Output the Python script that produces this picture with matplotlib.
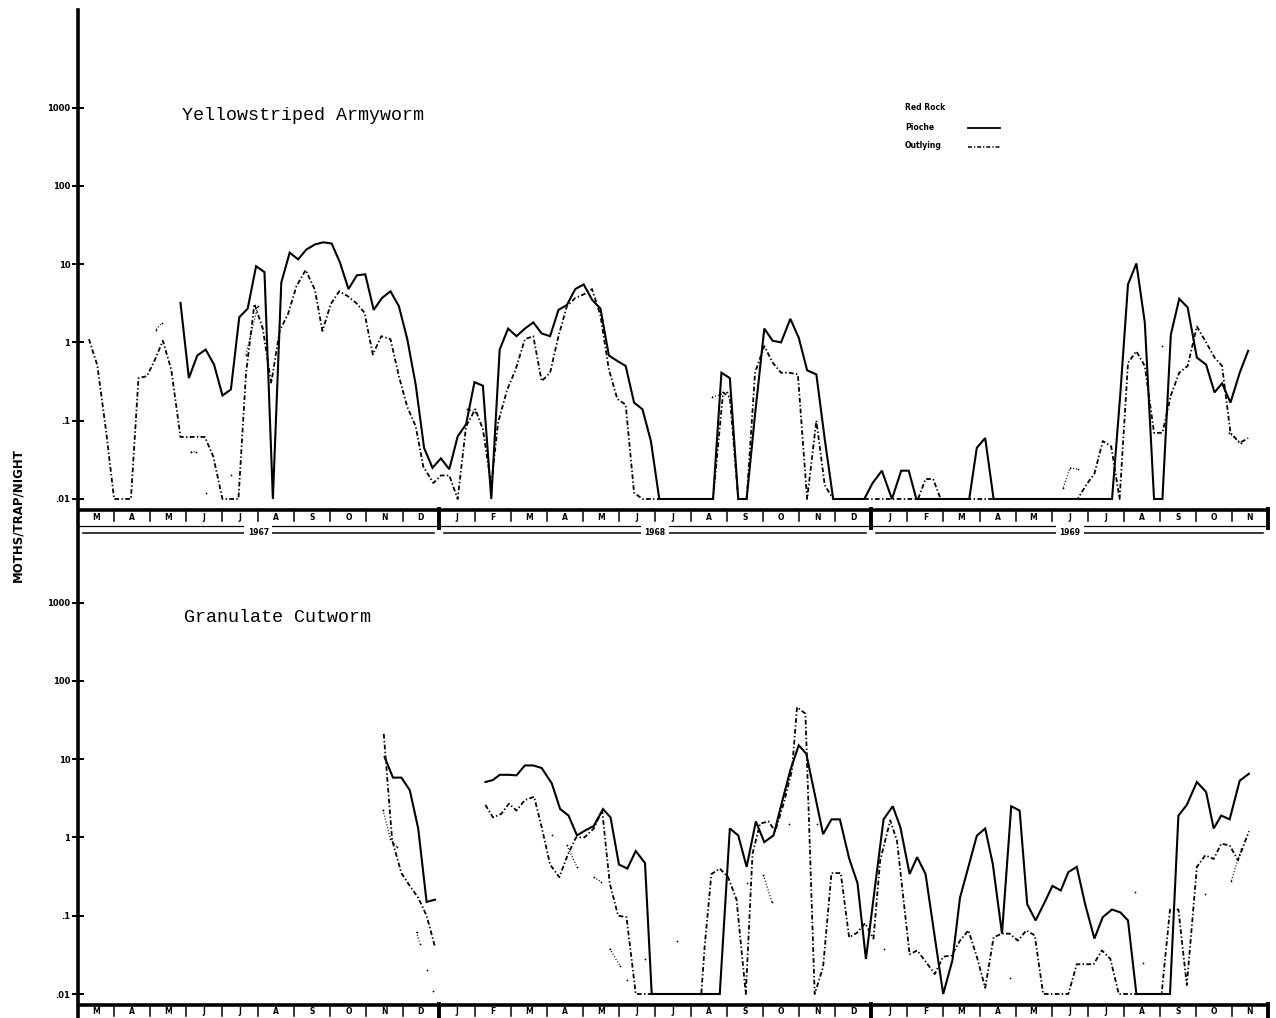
import numpy as np
import matplotlib
matplotlib.use("Agg")
import matplotlib.pyplot as plt
from matplotlib.lines import Line2D
from matplotlib.ticker import NullLocator

nan = np.nan

# trap catches, weeks counted from 1 March 1967
months = ['M', 'A', 'M', 'J', 'J', 'A', 'S', 'O', 'N', 'D',
          'J', 'F', 'M', 'A', 'M', 'J', 'J', 'A', 'S', 'O', 'N', 'D',
          'J', 'F', 'M', 'A', 'M', 'J', 'J', 'A', 'S', 'O', 'N']
years = ['1967', '1968', '1969']
months_per_year = [10, 12, 11]
ytick_vals = [0.01, 0.1, 1, 10, 100, 1000]
ytick_labels = ['.01', '.1', '1', '10', '100', '1000']

# Yellowstriped Armyworm
ysa_pioche_wk = [12.2, 13.2, 14.2, 15.2, 16.2, 17.2, 18.2, 19.2, 20.2, 21.2, 22.2, 23.2,
                 24.2, 25.2, 26.2, 27.2, 28.2, 29.2, 30.2, 31.2, 32.2, 33.2, 34.2, 35.2,
                 36.2, 37.2, 38.2, 39.2, 40.2, 41.2, 42.2, 43.2, 44.2, 45.2, 46.2, 47.2,
                 48.2, 49.2, 50.2, 51.2, 52.2, 53.2, 54.2, 55.2, 56.2, 57.2, 58.2, 59.2,
                 60.2, 61.2, 62.2, 63.2, 64.2, 65.2, 66.2, 67.2, 68.2, 69.2,
                 70.6, 75.6, 76.6, 77.6, 78.6, 79.6, 80.6, 81.7, 82.7, 83.7, 84.8, 85.8,
                 86.8, 87.9, 88.9, 89.9, 93.6, 94.6, 95.7, 96.9, 98.0, 98.9, 99.8,
                 106.1, 107.0, 108.0, 109.0, 123.1, 124.1, 125.0, 126.0, 127.0, 128.1,
                 129.1, 130.1, 131.1, 132.1, 133.2, 134.3, 135.3, 136.2, 137.2, 138.3, 139.3]
ysa_pioche = [3.2, 0.35, 0.68, 0.81, 0.52, 0.21, 0.25, 2.1, 2.7, 9.4, 7.9, 0.01,
              5.8, 14, 11.5, 15.4, 17.8, 19, 18.3, 10.4, 4.8, 7.2, 7.4, 2.6,
              3.7, 4.5, 2.9, 1.1, 0.29, 0.045, 0.025, 0.033, 0.024, 0.063, 0.09, 0.31,
              0.28, 0.01, 0.81, 1.5, 1.2, 1.5, 1.8, 1.3, 1.2, 2.6, 3.0, 4.8,
              5.5, 3.5, 2.7, 0.68, 0.58, 0.5, 0.17, 0.14, 0.055, 0.01,
              0.01, 0.01, 0.41, 0.35, 0.01, 0.01, 0.12, 1.5, 1.05, 1.0, 2.0, 1.15,
              0.44, 0.39, 0.058, 0.01, 0.01, 0.016, 0.023, 0.01, 0.023, 0.023, 0.01,
              0.01, 0.045, 0.06, 0.01, 0.01, 0.23, 5.5, 10.2, 1.8, 0.01,
              0.01, 1.26, 3.6, 2.8, 0.64, 0.52, 0.23, 0.3, 0.17, 0.41, 0.78]

ysa_outlying_wk = [1.3, 2.3, 3.3, 4.3, 5.3, 6.3, 7.2, 8.2, 9.1, 10.1, 11.1,
                   12.2, 13.2, 14.2, 15.1, 16.1, 17.2, 18.2, 19.1,
                   20.0, 21.0, 22.0, 23.0, 24.0, 25.0, 26.0, 27.1, 28.2, 29.1,
                   30.1, 31.1, 32.1, 33.1, 34.1, 35.1, 36.1, 37.2, 38.2, 39.2,
                   40.2, 41.1, 42.3, 43.2, 44.2, 45.2, 46.2, 47.3, 48.2, 49.2,
                   50.0, 51.1, 52.1, 53.2, 54.2, 55.2, 56.2, 57.2, 58.2, 59.2,
                   60.2, 61.2, 62.2, 63.2, 64.2, 65.2, 66.2, 67.2, 68.4,
                   75.6, 76.8, 77.6, 78.6, 79.6, 80.6, 81.7, 82.7, 83.7, 84.7, 85.7,
                   86.8, 87.9, 88.9, 89.9, 100.0, 100.9, 101.8, 102.7, 119.0,
                   120.0, 121.0, 122.0, 123.0, 124.0, 125.0, 126.0, 127.0, 128.1, 129.1,
                   130.1, 131.1, 132.1, 133.2, 134.3, 135.3, 136.2, 137.2, 138.3, 139.3]
ysa_outlying = [1.1, 0.51, 0.08, 0.01, 0.01, 0.01, 0.35, 0.37, 0.58, 1.05, 0.45,
                0.062, 0.062, 0.062, 0.062, 0.035, 0.01, 0.01, 0.01,
                0.4, 3.1, 1.5, 0.3, 1.4, 2.3, 5.2, 8.4, 4.7, 1.4,
                3.1, 4.5, 3.9, 3.2, 2.4, 0.7, 1.2, 1.1, 0.37, 0.15,
                0.085, 0.026, 0.016, 0.02, 0.02, 0.01, 0.085, 0.14, 0.078, 0.015,
                0.094, 0.25, 0.45, 1.1, 1.2, 0.32, 0.41, 1.2, 2.9, 3.7,
                4.1, 4.8, 2.2, 0.45, 0.19, 0.16, 0.012, 0.01, 0.01,
                0.01, 0.23, 0.2, 0.01, 0.01, 0.41, 0.9, 0.55, 0.41, 0.41, 0.39,
                0.01, 0.1, 0.015, 0.01, 0.01, 0.018, 0.018, 0.01, 0.01,
                0.015, 0.021, 0.055, 0.047, 0.01, 0.55, 0.77, 0.5, 0.07, 0.07,
                0.21, 0.41, 0.5, 1.6, 1.0, 0.64, 0.5, 0.07, 0.052, 0.06]

ysa_redrock_wk = [9.3, 10.0, nan, 13.4, 14.1, nan, 15.2, nan, 18.2, nan, 20.0, 21.4, nan,
                  46.3, 47.3, nan, 75.5, 77.3, nan, 117.3, 118.1, 119.1, nan, 129.1, nan,
                  137.0, 138.4]
ysa_redrock = [1.46, 1.78, nan, 0.04, 0.04, nan, 0.012, nan, 0.02, nan, 0.7, 2.9, nan,
               0.14, 0.13, nan, 0.2, 0.23, nan, 0.014, 0.025, 0.024, nan, 0.9, nan,
               0.07, 0.052]

# Granulate Cutworm
gc_pioche_wk = [36.5, 37.5, 38.5, 39.5, 40.5, 41.5, 42.5, nan,
                48.5, 49.4, 50.2, 51.3, 52.2, 53.2, 54.2, 55.2, 56.4, 57.4,
                58.4, 59.4, 60.4, 61.4, 62.5, 63.4, 64.4, 65.4, 66.4, 67.5,
                68.3, 76.4, 77.6, 78.6, 79.6, 80.7, 81.7, 82.8, 83.8, 84.8,
                85.8, 86.7, 87.7, 88.7, 89.7, 90.7, 91.8, 92.8, 93.8, 94.8,
                95.9, 97.0, 97.9, 99.0, 99.9, 100.9, 102.0, 103.0, 104.1, 105.0,
                106.0, 107.0, 108.0, 108.9, 110.0, 111.1, 112.1, 113.0, 114.0, 115.1,
                116.0, 117.0, 117.9, 118.9, 119.9, 121.0, 122.0, 123.1, 124.1, 125.0,
                126.0, 130.0, 131.0, 132.0, 133.2, 134.3, 135.2, 136.1, 137.1, 138.3,
                139.4]
gc_pioche = [10.6, 5.8, 5.8, 4.0, 1.3, 0.15, 0.16, nan,
             5.1, 5.4, 6.3, 6.3, 6.2, 8.3, 8.3, 7.7, 4.9, 2.3,
             1.9, 1.06, 1.23, 1.4, 2.3, 1.8, 0.45, 0.4, 0.67, 0.47,
             0.01, 0.01, 1.3, 1.06, 0.42, 1.6, 0.87, 1.06, 2.8, 7.2,
             15, 11.7, 3.6, 1.1, 1.7, 1.7, 0.54, 0.26, 0.028, 0.2,
             1.7, 2.5, 1.35, 0.34, 0.56, 0.34, 0.053, 0.01, 0.027, 0.17,
             0.42, 1.05, 1.3, 0.46, 0.059, 2.5, 2.2, 0.14, 0.087, 0.15,
             0.24, 0.21, 0.36, 0.42, 0.14, 0.051, 0.096, 0.12, 0.11, 0.087,
             0.01, 0.01, 1.9, 2.6, 5.1, 3.8, 1.3, 1.9, 1.7, 5.3,
             6.5]

gc_outlying_wk = [36.4, 37.4, 38.5, 39.5, 40.5, 41.5, 42.5, nan,
                  48.5, 49.4, 50.4, 51.3, 52.2, 53.2, 54.3, 55.2, 56.2, 57.3,
                  58.3, 59.3, 60.3, 61.4, 62.4, 63.3, 64.3, 65.3, 66.4,
                  74.2, 74.6, 75.4, 76.4, 77.4, 78.4, 79.5, 80.3, 81.2, 82.2,
                  83.0, 84.0, 85.0, 85.6, 86.6, 87.7, 88.7, 89.7, 90.8, 91.8,
                  92.7, 93.7, 94.7, 95.5, 96.7, 97.5, 99.0, 99.9, 100.9, 102.0,
                  103.0, 104.0, 105.0, 106.0, 107.0, 108.0, 109.0, 110.0, 110.9, 111.9,
                  112.9, 113.9, 114.9, 117.9, 118.9, 119.9, 120.9, 121.9, 122.9, 123.9,
                  129.0, 130.0, 131.0, 132.0, 133.2, 134.2, 135.2, 136.1, 137.1, 138.1,
                  139.4]
gc_outlying = [21, 0.92, 0.35, 0.24, 0.17, 0.1, 0.04, nan,
               2.6, 1.8, 2.0, 2.7, 2.2, 3.0, 3.3, 1.35, 0.45, 0.31,
               0.6, 1.0, 1.0, 1.3, 2.2, 0.26, 0.1, 0.096, 0.01,
               0.01, 0.04, 0.34, 0.4, 0.31, 0.16, 0.01, 0.62, 1.5, 1.6,
               1.2, 2.7, 7.2, 46, 38, 0.01, 0.022, 0.35, 0.35, 0.053,
               0.06, 0.08, 0.051, 0.51, 1.65, 0.9, 0.032, 0.036, 0.026, 0.018,
               0.03, 0.031, 0.048, 0.065, 0.03, 0.012, 0.053, 0.059, 0.059, 0.048,
               0.065, 0.056, 0.01, 0.01, 0.024, 0.024, 0.024, 0.036, 0.028, 0.01,
               0.01, 0.12, 0.12, 0.013, 0.42, 0.59, 0.53, 0.83, 0.79, 0.51,
               1.2]

gc_redrock_wk = [36.3, 37.2, 38.0, nan, 40.3, 40.7, nan, 41.5, nan, 42.3, nan, 56.4, nan,
                 58.2, 59.4, nan, 61.4, 62.3, nan, 63.3, 64.5, nan, 65.3, nan, 67.5, nan,
                 71.3, nan, 79.6, nan, 81.6, 82.6, nan, 84.6, nan, 88.0, nan, 95.9, nan,
                 111.0, nan, 125.8, nan, 126.8, nan, 134.2, nan, 137.3, 138.5]
gc_redrock = [2.25, 0.96, 0.75, nan, 0.062, 0.044, nan, 0.02, nan, 0.011, nan, 1.06, nan,
              0.79, 0.42, nan, 0.31, 0.27, nan, 0.038, 0.023, nan, 0.015, nan, 0.028, nan,
              0.048, nan, 0.26, nan, 0.33, 0.15, nan, 1.5, nan, 1.5, nan, 0.038, nan,
              0.016, nan, 0.2, nan, 0.025, nan, 0.19, nan, 0.28, 0.72]

W, H = 1276, 1018
X0, X1 = 78, 1268
PX_PER_WEEK = 8.40
XMAX = (X1 - X0) / PX_PER_WEEK
DECADE = 78.3


def fx(px):
    return px / W


def fy(py):
    return 1 - py / H


fig = plt.figure(figsize=(W / 100, H / 100), dpi=100)
fig.patch.set_facecolor('white')


def panel(y_top, y_bot, y_001):
    ax = fig.add_axes([fx(X0), fy(y_bot), fx(X1) - fx(X0), (y_bot - y_top) / H])
    ax.set_yscale('log')
    ax.set_ylim(10 ** (-2 - (y_bot - y_001) / DECADE), 10 ** (-2 + (y_001 - y_top) / DECADE))
    ax.set_xlim(0, XMAX)
    for s in ax.spines.values():
        s.set_visible(False)
    ax.set_xticks([])
    ax.set_yticks(ytick_vals)
    ax.set_yticklabels(ytick_labels, fontsize=6, fontweight='bold')
    ax.yaxis.set_minor_locator(NullLocator())
    ax.tick_params(axis='y', direction='inout', length=9, width=1.4, pad=1)
    ax.patch.set_alpha(0)
    return ax


def draw_series(ax, pio_wk, pio, out_wk, out, rr_wk, rr):
    ax.plot(pio_wk, pio, color='black', lw=1.5, solid_joinstyle='miter')
    ax.plot(out_wk, out, color='black', lw=1.3, ls=(0, (2.6, 1.3, 0.8, 1.3)))
    ax.plot(rr_wk, rr, color='black', lw=0.9, ls=(0, (0.8, 1.6)),
            marker='.', ms=2.5, mew=0)


def month_strip(y0, h, label_y, with_years):
    sx = fig.add_axes([fx(X0), fy(y0 + h), fx(X1) - fx(X0), h / H])
    sx.set_xlim(0, XMAX)
    sx.set_ylim(h, 0)
    sx.axis('off')
    edges = np.linspace(0, XMAX, len(months) + 1)
    sx.plot([0, XMAX], [1, 1], color='black', lw=2.6, solid_capstyle='butt', clip_on=False)
    year_edges = np.cumsum(months_per_year)
    for i, lab in enumerate(months):
        sx.text((edges[i] + edges[i + 1]) / 2, label_y, lab, ha='center', va='center',
                fontsize=5.5, fontweight='bold')
    for i in range(1, len(months) + 1):
        if i in year_edges:
            sx.plot([edges[i]] * 2, [0, min(h, 19)], color='black', lw=2.8, clip_on=False)
        else:
            sx.plot([edges[i]] * 2, [3, 12], color='black', lw=1.1, clip_on=False)
    if with_years:
        sx.plot([0, XMAX], [17, 17], color='black', lw=0.9, clip_on=False)
        start = 0
        for yr, n in zip(years, months_per_year):
            a, b = edges[start], edges[start + n]
            sx.plot([a + 0.6, b - 0.6], [23.5, 23.5], color='black', lw=1.1, clip_on=False)
            sx.text((a + b) / 2, 23.5, yr, ha='center', va='center', fontsize=5.5,
                    fontweight='bold',
                    bbox=dict(facecolor='white', edgecolor='none', pad=2.5))
            start += n


ax_top = panel(10, 510, 499)
draw_series(ax_top, ysa_pioche_wk, ysa_pioche, ysa_outlying_wk, ysa_outlying,
            ysa_redrock_wk, ysa_redrock)
month_strip(509, 30, 9, True)

ax_bot = panel(548, 1005, 994)
draw_series(ax_bot, gc_pioche_wk, gc_pioche, gc_outlying_wk, gc_outlying,
            gc_redrock_wk, gc_redrock)
month_strip(1004, 14, 8, False)

# continuous left axis line through both panels
fig.add_artist(Line2D([fx(X0), fx(X0)], [fy(10), fy(1018)], color='black', lw=2.6))

fig.text(fx(182), fy(115), 'Yellowstriped Armyworm', family='Liberation Mono',
         fontsize=13.2, va='center', ha='left')
fig.text(fx(184), fy(617), 'Granulate Cutworm', family='Liberation Mono',
         fontsize=13.2, va='center', ha='left')

fig.text(fx(18), fy(515), 'MOTHS/TRAP/NIGHT', rotation=90, fontsize=8.5,
         fontweight='bold', ha='center', va='center')

# legend
for py, lab in zip([108, 127, 146], ['Red Rock', 'Pioche', 'Outlying']):
    fig.text(fx(905), fy(py), lab, fontsize=5.5, fontweight='bold', va='center', ha='left')
fig.add_artist(Line2D([fx(968), fx(1000)], [fy(128), fy(128)], color='black', lw=1.3))
fig.add_artist(Line2D([fx(968), fx(1000)], [fy(147), fy(147)], color='black', lw=1.1,
                      ls=(0, (2.6, 1.3, 0.8, 1.3))))

fig.savefig('out.png', dpi=100, facecolor='white')
